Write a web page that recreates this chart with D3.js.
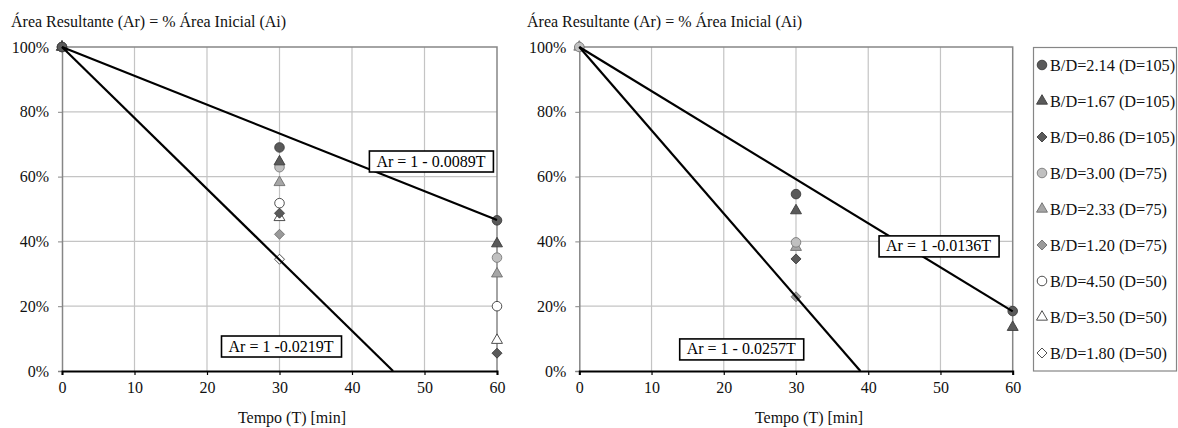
<!DOCTYPE html>
<html>
<head>
<meta charset="utf-8">
<script src="https://cdn.jsdelivr.net/npm/d3@7"></script>
<style>
  body { margin: 0; background: #fff; }
  svg { display: block; font-family: "Liberation Serif", "DejaVu Serif", serif; }
</style>
</head>
<body>
<svg id="chart" width="1178" height="428"></svg>
<script>
// tempos medidos (min)
var times = [0, 30, 60];

// nomes das séries (legenda)
var seriesNames = [
  "B/D=2.14 (D=105)", "B/D=1.67 (D=105)", "B/D=0.86 (D=105)",
  "B/D=3.00 (D=75)", "B/D=2.33 (D=75)", "B/D=1.20 (D=75)",
  "B/D=4.50 (D=50)", "B/D=3.50 (D=50)", "B/D=1.80 (D=50)"
];

// valores (%) gráfico da esquerda, uma linha por série
var leftValues = [
  [100, 69.0, 46.5],
  [100, 64.6, 39.3],
  [100, 48.7, 5.5],
  [100, 62.9, 35.0],
  [100, 58.2, 30.0],
  [100, 42.2, null],
  [100, 51.8, 20.0],
  [100, 47.4, 9.5],
  [100, 34.5, null]
];

// valores (%) gráfico da direita
var rightValues = [
  [null, 54.6, 18.5],
  [null, 49.5, 13.5],
  [null, 34.6, null],
  [100, 39.7, null],
  [100, 38.2, null],
  [100, 22.9, null],
  [null, null, null],
  [null, null, null],
  [null, null, null]
];

// coeficientes das retas Ar = 1 - k*T
var leftSlopes = [0.0089, 0.0219];
var rightSlopes = [0.0136, 0.0257];
var leftLabels = ["Ar = 1 - 0.0089T", "Ar = 1 -0.0219T"];
var rightLabels = ["Ar = 1 -0.0136T", "Ar = 1 - 0.0257T"];

var xTicks = [0, 10, 20, 30, 40, 50, 60];
var yTicks = [0, 20, 40, 60, 80, 100];

var yTitle = "Área Resultante (Ar) = % Área Inicial (Ai)";
var xTitle = "Tempo (T) [min]";

// estilo dos marcadores por série
var shapes = ["circle", "triangle", "diamond", "circle", "triangle", "diamond", "circle", "triangle", "diamond"];
var fills = ["#5a5a5a", "#5a5a5a", "#5a5a5a", "#c0c0c0", "#a6a6a6", "#9a9a9a", "#ffffff", "#ffffff", "#ffffff"];
var strokes = ["#3c3c3c", "#3c3c3c", "#3c3c3c", "#7a7a7a", "#6e6e6e", "#6e6e6e", "#3c3c3c", "#3c3c3c", "#3c3c3c"];

var svg = d3.select("#chart");

function markerPath(shape) {
  if (shape == "circle") return d3.symbol(d3.symbolCircle, 72)();
  if (shape == "triangle") return d3.symbol(d3.symbolTriangle, 52)();
  return "M0,-5L5,0L0,5L-5,0Z";
}

function drawPanel(opts) {
  var x = d3.scaleLinear().domain([0, 60]).range([opts.x0, opts.x1]);
  var y = d3.scaleLinear().domain([0, 100]).range([371, 47]);
  var g = svg.append("g");

  // grade
  g.selectAll(".vgrid").data(xTicks.slice(1, -1)).enter().append("line")
    .attr("x1", d => x(d)).attr("x2", d => x(d))
    .attr("y1", y(0)).attr("y2", y(100))
    .attr("stroke", "#c4c4c4").attr("stroke-width", 1.2);
  g.selectAll(".hgrid").data(yTicks.slice(1, -1)).enter().append("line")
    .attr("x1", x(0)).attr("x2", x(60))
    .attr("y1", d => y(d)).attr("y2", d => y(d))
    .attr("stroke", "#c4c4c4").attr("stroke-width", 1.2);

  // borda superior e direita
  g.append("path")
    .attr("d", `M${x(0)},${y(100)}H${x(60)}V${y(0)}`)
    .attr("fill", "none").attr("stroke", "#868686").attr("stroke-width", 1.5);

  // eixo y
  var yAxis = g.append("g").attr("transform", `translate(${x(0)},0)`)
    .call(d3.axisLeft(y).tickValues(yTicks).tickFormat(d => d + "%").tickSize(4).tickPadding(9));
  yAxis.attr("font-family", null);
  yAxis.select(".domain").attr("stroke", "#868686").attr("stroke-width", 1.5);
  yAxis.selectAll(".tick line").attr("stroke", "#868686");
  yAxis.selectAll("text").attr("font-size", 16).attr("fill", "#111");

  // eixo x
  var xAxis = g.append("g").attr("transform", `translate(0,${y(0)})`)
    .call(d3.axisBottom(x).tickValues(xTicks).tickSize(4).tickPadding(7));
  xAxis.attr("font-family", null);
  xAxis.select(".domain").attr("stroke", "#000").attr("stroke-width", 2);
  xAxis.selectAll(".tick line").attr("stroke", "#000").attr("stroke-width", 1.2);
  xAxis.selectAll("text").attr("font-size", 16).attr("fill", "#111");

  // títulos
  g.append("text").attr("x", opts.titleX).attr("y", 27)
    .attr("font-size", 16).attr("fill", "#111").text(yTitle);
  g.append("text").attr("x", opts.xTitleX).attr("y", 423)
    .attr("text-anchor", "middle").attr("font-size", 16).attr("fill", "#111").text(xTitle);

  // marcadores (última série embaixo)
  opts.values.slice().reverse().forEach(function(vals, r) {
    var i = opts.values.length - 1 - r;
    var pts = times.map((t, j) => ({t: t, v: vals[j]})).filter(p => p.v != null);
    g.selectAll(null).data(pts).enter().append("path")
      .attr("d", markerPath(shapes[i]))
      .attr("transform", p => `translate(${x(p.t)},${y(p.v)})`)
      .attr("fill", fills[i]).attr("stroke", strokes[i]).attr("stroke-width", 0.9);
  });

  // retas de tendência
  opts.slopes.forEach(function(k) {
    var tEnd = Math.min(60, 1 / k);
    g.append("line")
      .attr("x1", x(0)).attr("y1", y(100))
      .attr("x2", x(tEnd)).attr("y2", y(100 * (1 - k * tEnd)))
      .attr("stroke", "#000").attr("stroke-width", 2.2);
  });

  // rótulos das equações
  opts.labels.forEach(function(txt, i) {
    var pos = opts.labelPos[i];
    var lg = g.append("g").attr("transform", `translate(${x(pos[0])},${y(pos[1])})`);
    var t = lg.append("text").attr("x", 7).attr("y", 15.5)
      .attr("font-size", 16).attr("fill", "#000").text(txt);
    var w = t.node().getComputedTextLength();
    lg.insert("rect", "text").attr("x", 0).attr("y", 0)
      .attr("width", w + 15).attr("height", 21)
      .attr("fill", "#fff").attr("stroke", "#000").attr("stroke-width", 1.6);
  });
}

drawPanel({
  x0: 62, x1: 497, titleX: 11, xTitleX: 292,
  values: leftValues, slopes: leftSlopes, labels: leftLabels,
  labelPos: [[42.4, 67.9], [22, 10.8]]
});

drawPanel({
  x0: 579.3, x1: 1012.7, titleX: 527, xTitleX: 809,
  values: rightValues, slopes: rightSlopes, labels: rightLabels,
  labelPos: [[41.5, 41.7], [13.9, 9.9]]
});

// legenda
var legend = svg.append("g");
legend.append("rect").attr("x", 1033.5).attr("y", 47.5).attr("width", 143).attr("height", 323.5)
  .attr("fill", "#fff").attr("stroke", "#868686").attr("stroke-width", 1.2);
var ly = d3.scalePoint().domain(seriesNames).range([65, 353]);
seriesNames.forEach(function(name, i) {
  legend.append("path").attr("d", markerPath(shapes[i]))
    .attr("transform", `translate(1042,${ly(name)})`)
    .attr("fill", fills[i]).attr("stroke", strokes[i]).attr("stroke-width", 0.9);
  legend.append("text").attr("x", 1050).attr("y", ly(name) + 5.5)
    .attr("font-size", 16.3).attr("fill", "#111").text(name);
});
</script>
</body>
</html>
